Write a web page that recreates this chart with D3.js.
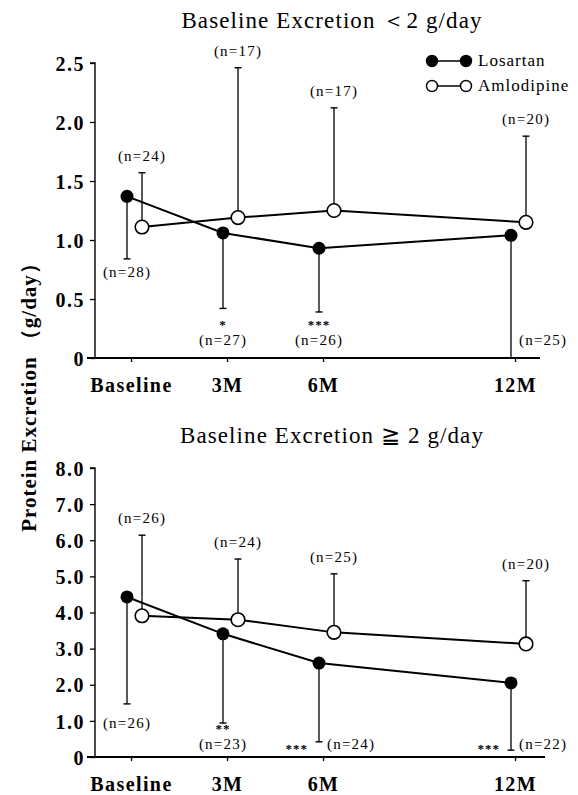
<!DOCTYPE html>
<html>
<head>
<meta charset="utf-8">
<script src="https://cdn.jsdelivr.net/npm/d3@7"></script>
<style>
  body { margin: 0; background: #fff; }
  svg { display: block; }
  svg text { font-family: "Liberation Serif", "DejaVu Serif", serif; fill: #000; }
</style>
</head>
<body>
<div id="chart"></div>
<script>
// time points (months) and their labels
const months = [0, 3, 6, 12];
const monthLabels = ["Baseline", "3M", "6M", "12M"];

// panel 1: baseline excretion < 2 g/day
const lowLosMean = [1.37, 1.06, 0.93, 1.04];
const lowLosLower = [0.84, 0.42, 0.39, 0.0];
const lowAmlMean = [1.11, 1.19, 1.25, 1.15];
const lowAmlUpper = [1.57, 2.46, 2.12, 1.88];
const lowTicks = [0, 0.5, 1.0, 1.5, 2.0, 2.5];
const lowLosN = ["(n=28)", "(n=27)", "(n=26)", "(n=25)"];
const lowAmlN = ["(n=24)", "(n=17)", "(n=17)", "(n=20)"];
const lowStars = ["", "*", "***", ""];

// panel 2: baseline excretion >= 2 g/day
const highLosMean = [4.43, 3.41, 2.6, 2.05];
const highLosLower = [1.47, 0.94, 0.42, 0.19];
const highAmlMean = [3.91, 3.8, 3.45, 3.13];
const highAmlUpper = [6.14, 5.48, 5.07, 4.88];
const highTicks = [0, 1, 2, 3, 4, 5, 6, 7, 8];
const highLosN = ["(n=26)", "(n=23)", "(n=24)", "(n=22)"];
const highAmlN = ["(n=26)", "(n=24)", "(n=25)", "(n=20)"];
const highStars = ["", "**", "***", "***"];

const W = 578, H = 795;
const svg = d3.select("#chart").append("svg")
    .attr("width", W)
    .attr("height", H);

const x = d3.scaleLinear().domain([0, 12]).range([131, 515]);
const losDx = -4, amlDx = 11;
const serif = "'Liberation Serif', 'DejaVu Serif', serif";

function drawPanel(opt) {
    const y = d3.scaleLinear().domain(opt.domain).range([opt.bottom, opt.top]);
    const g = svg.append("g");

    // title
    g.append("text")
        .attr("x", 332).attr("y", opt.titleY)
        .attr("text-anchor", "middle")
        .style("font-size", "23px")
        .style("letter-spacing", "1.1px")
        .text(opt.title);

    // y axis
    const yAxis = d3.axisLeft(y)
        .tickValues(opt.ticks)
        .tickSize(5)
        .tickFormat(d => d === 0 ? "0" : d3.format(".1f")(d));
    const ya = g.append("g")
        .attr("transform", "translate(95,0)")
        .call(yAxis)
        .attr("font-family", null);
    ya.select(".domain").attr("stroke-width", 1.4).attr("d", `M-5,${opt.top}H0V${opt.bottom}`);
    ya.selectAll(".tick line").attr("stroke-width", 1.3);
    ya.selectAll("text")
        .style("font-family", serif)
        .style("font-size", "20px")
        .style("font-weight", "bold")
        .style("letter-spacing", "1.5px")
        .attr("x", -10)
        .attr("dy", "0.36em");

    // x axis
    const xAxis = d3.axisBottom(x)
        .tickValues(months)
        .tickSize(4)
        .tickFormat((d, i) => monthLabels[i]);
    const xa = g.append("g")
        .attr("transform", `translate(0,${opt.bottom})`)
        .call(xAxis)
        .attr("font-family", null);
    xa.select(".domain").attr("stroke-width", 2).attr("d", `M87,0H${opt.axisEnd}`);
    xa.selectAll(".tick line").attr("stroke-width", 1.3);
    xa.selectAll("text")
        .style("font-family", serif)
        .style("font-size", "20px")
        .style("font-weight", "bold")
        .style("letter-spacing", "1.4px")
        .attr("y", 34)
        .attr("dy", 0);

    // error bars
    const cap = 3.5;
    const bar = (xx, y1, y2) => {
        g.append("line").attr("x1", xx).attr("x2", xx)
            .attr("y1", y1).attr("y2", y2)
            .attr("stroke", "#000").attr("stroke-width", 1.3);
        g.append("line").attr("x1", xx - cap).attr("x2", xx + cap)
            .attr("y1", y2).attr("y2", y2)
            .attr("stroke", "#000").attr("stroke-width", 1.4);
    };
    months.forEach((m, i) => {
        bar(x(m) + losDx, y(opt.losMean[i]), y(opt.losLower[i]));
        bar(x(m) + amlDx, y(opt.amlMean[i]), y(opt.amlUpper[i]));
    });

    // lines
    const line = dx => d3.line().x((d, i) => x(months[i]) + dx).y(d => y(d));
    g.append("path").attr("d", line(losDx)(opt.losMean))
        .attr("fill", "none").attr("stroke", "#000").attr("stroke-width", 2);
    g.append("path").attr("d", line(amlDx)(opt.amlMean))
        .attr("fill", "none").attr("stroke", "#000").attr("stroke-width", 2);

    // markers
    g.selectAll(".los").data(opt.losMean).enter().append("circle")
        .attr("cx", (d, i) => x(months[i]) + losDx).attr("cy", d => y(d))
        .attr("r", 6.5).attr("fill", "#000");
    g.selectAll(".aml").data(opt.amlMean).enter().append("circle")
        .attr("cx", (d, i) => x(months[i]) + amlDx).attr("cy", d => y(d))
        .attr("r", 6.8).attr("fill", "#fff").attr("stroke", "#000").attr("stroke-width", 1.6);

    // n labels above amlodipine bars
    opt.amlN.forEach((t, i) => {
        g.append("text")
            .attr("x", x(months[i]) + amlDx).attr("y", y(opt.amlUpper[i]) - 12)
            .attr("text-anchor", "middle")
            .style("font-size", "15px").style("letter-spacing", "1.2px")
            .text(t);
    });

    // n labels and significance marks below losartan bars
    opt.losN.forEach((t, i) => {
        const lx = x(months[i]) + losDx;
        const p = opt.losPlace[i];
        let tx = lx, ty = opt.bottom - opt.nRow, anchor = "middle";
        if (p === "cap") ty = y(opt.losLower[i]) + opt.capGap;
        if (p === "right") { tx = lx + 8; anchor = "start"; }
        g.append("text")
            .attr("x", tx).attr("y", ty)
            .attr("text-anchor", anchor)
            .style("font-size", "15px").style("letter-spacing", "1.2px")
            .text(t);
        const s = opt.stars[i];
        if (s) {
            const right = p === "right";
            g.append("text")
                .attr("x", right ? lx - 11 : lx)
                .attr("y", right ? ty + 4 : ty - 16)
                .attr("text-anchor", right ? "end" : "middle")
                .style("font-size", "13px").style("font-weight", "bold")
                .style("letter-spacing", "1px")
                .text(s);
        }
    });
}

drawPanel({
    title: "Baseline Excretion \uFF1C2 g/day", titleY: 28,
    domain: [0, 2.5], top: 63, bottom: 358, axisEnd: 540,
    ticks: lowTicks,
    losMean: lowLosMean, losLower: lowLosLower,
    amlMean: lowAmlMean, amlUpper: lowAmlUpper,
    losN: lowLosN, amlN: lowAmlN, stars: lowStars,
    losPlace: ["cap", "below", "below", "right"],
    nRow: 13, capGap: 18
});

drawPanel({
    title: "Baseline Excretion \u2267 2 g/day", titleY: 443,
    domain: [0, 8], top: 468, bottom: 757, axisEnd: 545,
    ticks: highTicks,
    losMean: highLosMean, losLower: highLosLower,
    amlMean: highAmlMean, amlUpper: highAmlUpper,
    losN: highLosN, amlN: highAmlN, stars: highStars,
    losPlace: ["cap", "below", "right", "right"],
    nRow: 8, capGap: 24
});

// shared y axis title
svg.append("text")
    .attr("transform", "translate(36,392) rotate(-90)")
    .attr("text-anchor", "middle")
    .style("font-size", "21px")
    .style("font-weight", "bold")
    .style("letter-spacing", "1px")
    .text("Protein Excretion \uFF08g/day\uFF09");

// legend
const legendItems = [
    { name: "Losartan", fill: "#000", y: 61 },
    { name: "Amlodipine", fill: "#fff", y: 86 }
];
const lg = svg.append("g");
legendItems.forEach(d => {
    lg.append("line").attr("x1", 432).attr("x2", 466)
        .attr("y1", d.y).attr("y2", d.y)
        .attr("stroke", "#000").attr("stroke-width", 1.5);
    [432, 466].forEach(cx => {
        lg.append("circle").attr("cx", cx).attr("cy", d.y).attr("r", 5.5)
            .attr("fill", d.fill).attr("stroke", "#000").attr("stroke-width", 1.4);
    });
    lg.append("text").attr("x", 478).attr("y", d.y + 5)
        .style("font-size", "17px").style("letter-spacing", "1px")
        .text(d.name);
});
</script>
</body>
</html>
